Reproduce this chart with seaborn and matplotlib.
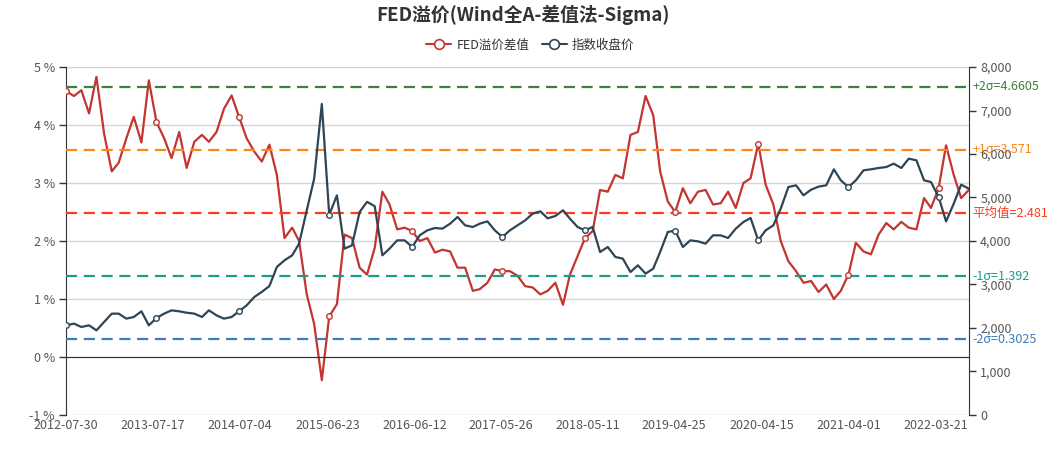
import numpy as np
import pandas as pd
import matplotlib
matplotlib.use('Agg')
import matplotlib.pyplot as plt
import matplotlib.dates as mdates
from matplotlib.lines import Line2D
from matplotlib.ticker import FuncFormatter
import seaborn as sns

# FED溢价差值 (%)
fed_spread = [
    4.58, 4.50, 4.60, 4.20, 4.83, 3.85, 3.20, 3.35, 3.77, 4.14,
    3.70, 4.77, 4.05, 3.77, 3.43, 3.88, 3.26, 3.71, 3.83, 3.71,
    3.88, 4.28, 4.51, 4.14, 3.77, 3.54, 3.37, 3.66, 3.14, 2.05,
    2.23, 2.00, 1.08, 0.57, -0.40, 0.70, 0.91, 2.11, 2.05, 1.54,
    1.42, 1.88, 2.85, 2.63, 2.20, 2.23, 2.17, 2.00, 2.05, 1.80,
    1.85, 1.82, 1.54, 1.54, 1.14, 1.17, 1.28, 1.51, 1.48, 1.48,
    1.40, 1.22, 1.20, 1.08, 1.14, 1.28, 0.90, 1.42, 1.74, 2.05,
    2.17, 2.88, 2.85, 3.14, 3.08, 3.83, 3.88, 4.50, 4.17, 3.20,
    2.68, 2.50, 2.91, 2.65, 2.85, 2.88, 2.63, 2.65, 2.85, 2.57,
    3.00, 3.08, 3.68, 2.97, 2.63, 2.00, 1.65, 1.48, 1.28, 1.31,
    1.12, 1.25, 1.00, 1.14, 1.42, 1.97, 1.82, 1.77, 2.11, 2.31,
    2.20, 2.33, 2.23, 2.20, 2.74, 2.57, 2.91, 3.65, 3.14, 2.74,
    2.88,
]

# 指数收盘价
index_close = [
    2061, 2100, 2023, 2061, 1946, 2138, 2330, 2330, 2215, 2253,
    2383, 2061, 2230, 2330, 2406, 2383, 2352, 2330, 2253, 2406,
    2290, 2215, 2253, 2383, 2521, 2713, 2828, 2966, 3402, 3556,
    3670, 3939, 4705, 5433, 7150, 4600, 5050, 3824, 3900, 4667,
    4900, 4800, 3670, 3824, 4015, 4015, 3862, 4130, 4245, 4299,
    4284, 4398, 4552, 4360, 4322, 4398, 4452, 4245, 4092, 4245,
    4360, 4475, 4628, 4682, 4521, 4575, 4705, 4513, 4322, 4245,
    4322, 3747, 3862, 3632, 3594, 3287, 3441, 3250, 3364, 3747,
    4207, 4240, 3862, 4015, 3992, 3939, 4130, 4130, 4069, 4284,
    4437, 4529, 4015, 4245, 4360, 4743, 5241, 5280, 5050, 5180,
    5250, 5280, 5648, 5395, 5241, 5395, 5625, 5648, 5678, 5701,
    5778, 5678, 5893, 5854, 5395, 5356, 5011, 4450, 4858, 5295,
    5203,
]

dates = pd.date_range('2012-07-31', periods=len(fed_spread), freq='ME')

tick_labels = ['2012-07-30', '2013-07-17', '2014-07-04', '2015-06-23',
               '2016-06-12', '2017-05-26', '2018-05-11', '2019-04-25',
               '2020-04-15', '2021-04-01', '2022-03-21']

sigma_names = ['+2σ', '+1σ', '平均值', '-1σ', '-2σ']
sigma_values = [4.6605, 3.571, 2.481, 1.392, 0.3025]
sigma_colors = ['#3f7f3f', '#ff8517', '#ff3b1f', '#1a9e8a', '#3a7dc0']

red = '#c23531'
navy = '#2f4554'

sns.set_style('white')
plt.rcParams['font.family'] = ['Noto Sans CJK SC', 'DejaVu Sans']
plt.rcParams['axes.unicode_minus'] = False

df = pd.DataFrame({'date': dates, 'fed': fed_spread, 'close': index_close})

fig = plt.figure(figsize=(10.5, 4.5), dpi=100)
ax = fig.add_axes([0.0629, 0.0778, 0.86, 0.7733])
ax2 = ax.twinx()

sns.lineplot(data=df, x='date', y='fed', ax=ax, color=red, linewidth=1.6, legend=False, zorder=2)
sns.lineplot(data=df, x='date', y='close', ax=ax2, color=navy, linewidth=1.6, legend=False, zorder=2)

# hollow symbols at the label positions, like the original
tick_dates = pd.to_datetime(tick_labels)
idx = [int(np.argmin(np.abs((dates - t).days))) for t in tick_dates]
sub = df.iloc[idx]
sns.scatterplot(data=sub, x='date', y='fed', ax=ax, marker='o', s=16, color='white',
                edgecolor=red, linewidth=1.0, zorder=5, legend=False)
sns.scatterplot(data=sub, x='date', y='close', ax=ax2, marker='o', s=16, color='white',
                edgecolor=navy, linewidth=1.0, zorder=5, legend=False)

for name, val, col in zip(sigma_names, sigma_values, sigma_colors):
    ax.axhline(val, color=col, lw=1.6, dashes=(5, 3), zorder=3)
    ax.text(1.004, val, f'{name}={val}', transform=ax.get_yaxis_transform(),
            color=col, fontsize=9, va='center', ha='left', clip_on=False)

# x axis
ax.set_xlim(pd.Timestamp('2012-07-30'), pd.Timestamp('2022-08-01'))
tick_nums = mdates.date2num(tick_dates)
ax.set_xticks(tick_nums)
ax.set_xticklabels(tick_labels)
mids = (tick_nums[:-1] + tick_nums[1:]) / 2
ax.set_xticks(mids, minor=True)
ax.tick_params(axis='x', which='major', length=0, pad=45, labelsize=9, labelcolor='#555')
ax.tick_params(axis='x', which='minor', length=5, width=1, color='#333', direction='out')

# left axis
ax.set_ylim(-1, 5)
ax.set_yticks(range(-1, 6))
ax.yaxis.set_major_formatter(FuncFormatter(lambda v, p: f'{int(v)} %'))
ax.tick_params(axis='y', length=5, width=1, color='#333', labelsize=9, labelcolor='#555', pad=3)
ax.yaxis.grid(True, color='#d6d6d6', lw=1)
ax.set_axisbelow(True)

# right axis
ax2.set_ylim(0, 8000)
ax2.set_yticks(range(0, 8001, 1000))
ax2.yaxis.set_major_formatter(FuncFormatter(lambda v, p: f'{int(v):,}'))
ax2.tick_params(axis='y', length=5, width=1, color='#333', labelsize=9, labelcolor='#555', pad=3)

for a in (ax, ax2):
    a.set_xlabel('')
    a.set_ylabel('')
    a.spines['top'].set_visible(False)
ax.spines['right'].set_visible(False)
ax.spines['left'].set_color('#333')
ax.spines['bottom'].set_color('#333')
ax.spines['bottom'].set_position(('data', 0))
ax2.spines['left'].set_visible(False)
ax2.spines['bottom'].set_visible(False)
ax2.spines['right'].set_color('#333')

fig.text(0.498, 0.968, 'FED溢价(Wind全A-差值法-Sigma)', ha='center', va='center',
         fontsize=13.5, fontweight='bold', color='#333')

handles = [Line2D([0], [0], color=c, lw=1.5, marker='o', markersize=7,
                  markerfacecolor='white', markeredgecolor=c, markeredgewidth=1.2)
           for c in (red, navy)]
fig.legend(handles, ['FED溢价差值', '指数收盘价'], loc='center', bbox_to_anchor=(0.505, 0.9),
           ncol=2, frameon=False, fontsize=9, handlelength=2.0, columnspacing=1.0,
           handletextpad=0.4, labelcolor='#333')

fig.savefig('out.png', dpi=100)
